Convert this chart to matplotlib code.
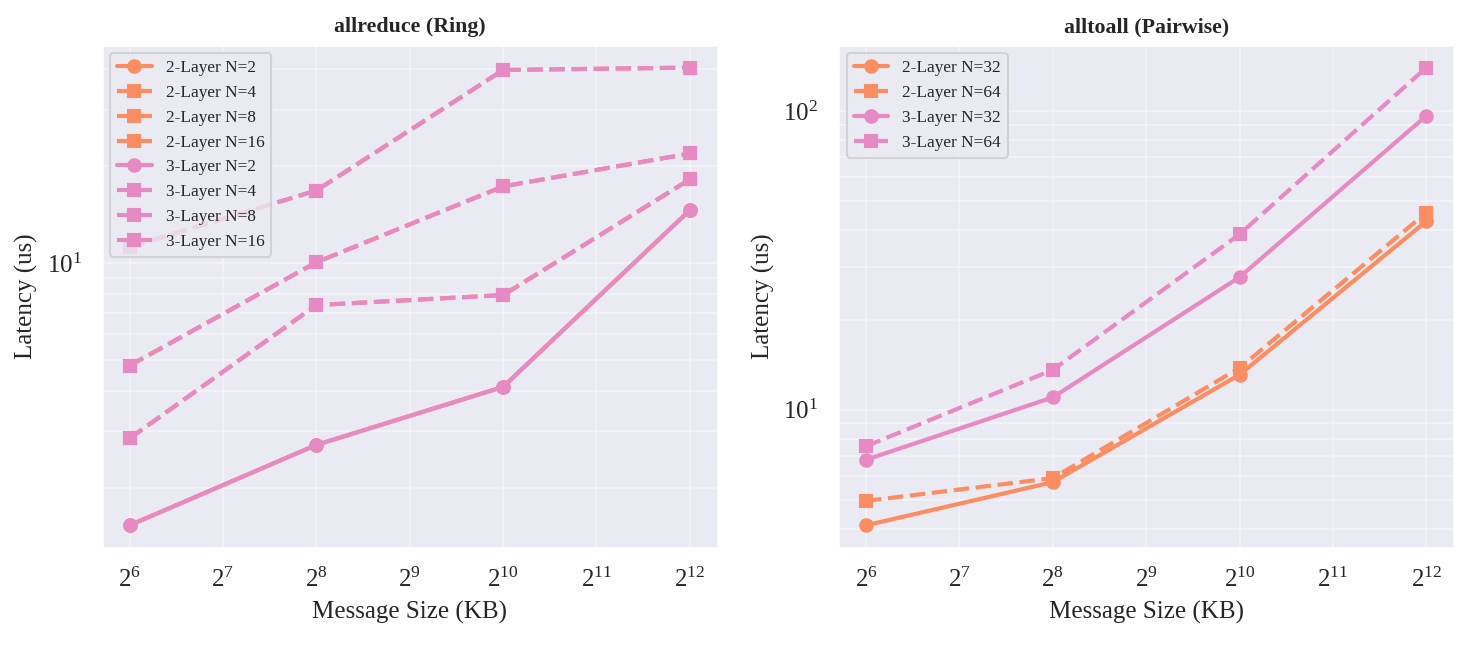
import numpy as np
import matplotlib
matplotlib.use("Agg")
import matplotlib.pyplot as plt
import seaborn as sns

sns.set_theme(style="darkgrid")
plt.rcParams['font.family'] = ['Liberation Serif', 'DejaVu Serif']
plt.rcParams['mathtext.fontset'] = 'stix'

# message sizes in KB
sizes = [64, 256, 1024, 4096]

# allreduce (Ring) latency (us) - 2-Layer lies under 3-Layer
ar_2l = {
    2: [1.53, 2.72, 4.12, 14.6],
    4: [2.85, 7.4, 7.95, 18.2],
    8: [4.8, 10.05, 17.3, 21.9],
    16: [11.2, 16.8, 39.8, 40.5],
}
ar_3l = {
    2: [1.53, 2.72, 4.12, 14.6],
    4: [2.85, 7.4, 7.95, 18.2],
    8: [4.8, 10.05, 17.3, 21.9],
    16: [11.2, 16.8, 39.8, 40.5],
}

# alltoall (Pairwise) latency (us)
a2a_2l = {
    32: [4.1, 5.72, 13.1, 42.8],
    64: [4.95, 5.9, 13.8, 45.7],
}
a2a_3l = {
    32: [6.8, 11.0, 27.8, 96.5],
    64: [7.55, 13.6, 38.7, 140.0],
}

c2 = "#fc8d62"
c3 = "#e78ac3"


def draw(ax, data2, data3, title):
    for data, color, layer in [(data2, c2, "2-Layer"), (data3, c3, "3-Layer")]:
        for i, (n, vals) in enumerate(data.items()):
            if i == 0:
                ls, mk = "-", "o"
            else:
                ls, mk = "--", "s"
            ax.plot(sizes, vals, linestyle=ls, marker=mk, color=color,
                    linewidth=2, markersize=6, label="{} N={}".format(layer, n))
    ax.set_xscale("log", base=2)
    ax.set_yscale("log")
    ax.set_xlabel("Message Size (KB)", fontsize=12)
    ax.set_ylabel("Latency (us)", fontsize=12)
    ax.set_title(title, fontsize=10.5, fontweight="bold")
    ax.tick_params(axis="both", labelsize=12)
    ax.grid(True, which="both", alpha=0.35)
    ax.legend(loc="upper left", fontsize=8.3, frameon=True, framealpha=0.8,
              edgecolor="#cccccc")


fig, (ax1, ax2) = plt.subplots(1, 2, figsize=(9.813, 4.32), dpi=150)
draw(ax1, ar_2l, ar_3l, "allreduce (Ring)")
draw(ax2, a2a_2l, a2a_3l, "alltoall (Pairwise)")
fig.subplots_adjust(left=0.069, right=0.988, bottom=0.154, top=0.931, wspace=0.195)
fig.savefig("out.png", dpi=150)
